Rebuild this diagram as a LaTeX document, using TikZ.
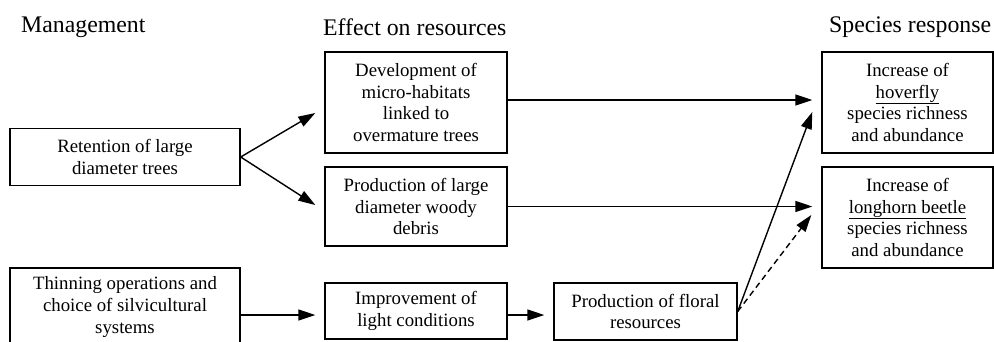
\documentclass[tikz,border=0pt]{standalone}
\usepackage{fontspec}
\setmainfont{Liberation Serif}
\newfontfamily\tms{Liberation Serif}
\usetikzlibrary{arrows.meta,calc}
\tikzset{
  box/.style={draw, line width=1.4pt, align=center, inner sep=0pt,
    font=\tms\fontsize{18.8}{21.7}\selectfont},
  hdr/.style={anchor=west, inner sep=0pt, font=\tms\fontsize{23.8}{27}\selectfont},
  arr/.style={line width=1.4pt, -{Triangle[length=17pt,width=11pt]}},
  dasharr/.style={arr, dash pattern=on 6pt off 4pt}
}
\begin{document}
\begin{tikzpicture}[x=1pt,y=-1pt]
\useasboundingbox (0,0) rectangle (994,341);
\begin{scope}
\clip (0,0) rectangle (994,341);
\node[hdr] (hm) at (21,27) {Management};
\node[hdr] (he) at (323,27) {Effect on resources};
\node[hdr] (hs) at (829,27) {Species response};

\node[box, minimum width=230pt, minimum height=57pt] (ret) at (125,157) {Retention of large\\diameter trees};
\node[box, minimum width=230pt, minimum height=78pt] (thin) at (125,307) {Thinning operations and\\choice of silvicultural\\systems};
\node[box, minimum width=182pt, minimum height=101pt] (dev) at (416,102.5) {Development of\\micro-habitats\\linked to\\overmature trees};
\node[box, minimum width=182pt, minimum height=79pt] (prod) at (416,206.5) {Production of large\\diameter woody\\debris};
\node[box, minimum width=182pt, minimum height=56pt] (imp) at (416,311) {Improvement of\\light conditions};
\node[box, minimum width=183pt, minimum height=57pt] (flo) at (645.5,311.5) {Production of floral\\resources};
\node[box, minimum width=171pt, minimum height=101pt] (hov) at (907.5,102.5) {Increase of\\\underline{hoverfly}\\species richness\\and abundance};
\node[box, minimum width=171pt, minimum height=101pt] (lon) at (907.5,217.5) {Increase of\\\underline{longhorn beetle}\\species richness\\and abundance};

\draw[arr] (ret.east) -- ($(dev.west)+(-9,10.5)$);
\draw[arr] (ret.east) -- ($(prod.west)+(-9,-1.5)$);
\draw[arr] ($(dev.east)+(0,-2.5)$) -- ($(hov.west)+(-9,-2.5)$);
\draw[arr] (prod.east) -- ($(prod.east -| lon.west)+(-9,0)$);
\draw[arr] ($(thin.east)+(0,8)$) -- ($(imp.west)+(-9,4)$);
\draw[arr] ($(imp.east)+(0,4)$) -- ($(flo.west)+(-9,3.5)$);
\draw[arr] (flo.east) -- ($(hov.west)+(-9,9.5)$);
\draw[dasharr] (flo.east) -- ($(lon.west)+(-10,-2.5)$);
\end{scope}
\end{tikzpicture}
\end{document}
